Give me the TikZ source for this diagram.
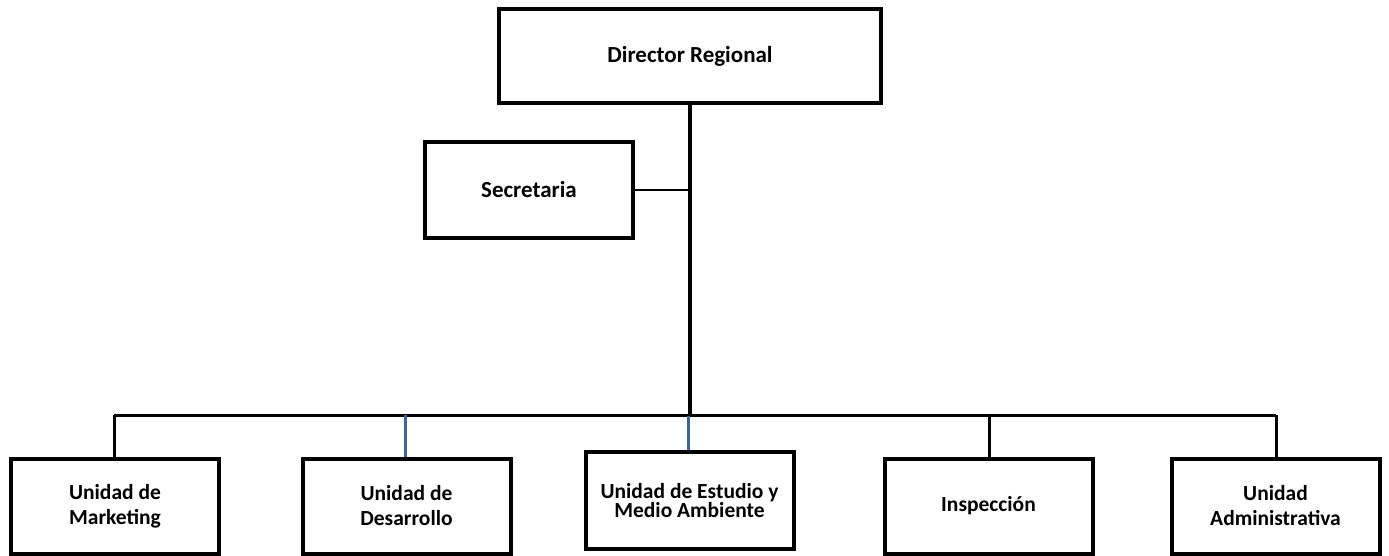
\documentclass[tikz,border=0pt]{standalone}
\usepackage{fontspec}
\setmainfont{Carlito}
\definecolor{linkblue}{RGB}{62,100,158}
\begin{document}
\begin{tikzpicture}[x=1pt,y=-1pt,
  box/.style={draw=black,line width=4pt,fill=white,inner sep=0pt,align=center,font=\bfseries\fontsize{21.5}{25}\selectfont},
  topbox/.style={box,minimum width=382pt,minimum height=94pt,font=\bfseries\fontsize{23}{25}\selectfont},
  secbox/.style={box,minimum width=208pt,minimum height=96pt,font=\bfseries\fontsize{23}{25}\selectfont},
  unitbox/.style={box,minimum width=208pt,minimum height=95pt},
  trunk/.style={line width=4pt},
  bus/.style={line width=3pt},
  bluelink/.style={line width=3pt,draw=linkblue}]
\useasboundingbox (0,0) rectangle (1389,556);
\node[topbox] (dir) at (690,56) {\raisebox{-2pt}{Director Regional}};
\node[secbox] (sec) at (529,190) {Secretaria};
\node[unitbox] (mkt) at (115,506) {Unidad de\\Marketing};
\node[unitbox] (des) at (406.5,506) {Unidad de\\Desarrollo};
\node[unitbox,minimum height=97pt,font=\bfseries\fontsize{21.5}{17}\selectfont] (est) at (689.5,500.5) {Unidad de Estudio y\\Medio Ambiente};
\node[unitbox] (ins) at (988.5,506) {\raisebox{-2pt}{Inspección}};
\node[unitbox] (adm) at (1275.5,506) {Unidad\\Administrativa};
\coordinate (j) at (690,415);
\coordinate (bl) at (114,415);
\coordinate (br) at (1276,415);
\draw[trunk] (dir.south) -- (j);
\draw[line width=2.5pt] (sec.east) -- (690,190);
\draw[bus] (bl) -- (br);
\draw[bus] (bl) -- (mkt.north -| bl);
\draw[bluelink] (405,415) -- (des.north -| 405,0);
\draw[bluelink] (688,416) -- (est.north -| 688,0);
\draw[bus] (989,415) -- (ins.north -| 989,0);
\draw[bus] (br) -- (adm.north -| br);
\end{tikzpicture}
\end{document}
